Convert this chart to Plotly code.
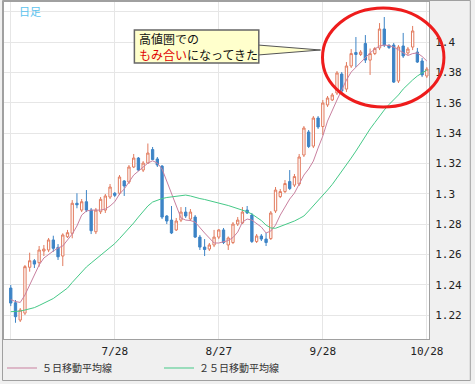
import plotly.graph_objects as go
import pandas as pd

# ---------------- data ----------------
dates = [d.strftime("%Y-%m-%d") for d in pd.bdate_range("2015-06-26", "2015-10-28")]

open_ = [1.2378, 1.2281, 1.2167, 1.2213, 1.2515, 1.2558, 1.2545, 1.2622, 1.2629, 1.2695,
         1.2646, 1.2589, 1.2716, 1.2739, 1.2937, 1.2892, 1.2947, 1.2892, 1.2749, 1.2881,
         1.2892, 1.2978, 1.3003, 1.3003, 1.3084, 1.3077, 1.3176, 1.3235, 1.3156, 1.3202,
         1.3291, 1.3229, 1.3182, 1.2853, 1.2826, 1.2761, 1.2826, 1.2879, 1.2833, 1.2846,
         1.2714, 1.2648, 1.2635, 1.2662, 1.2714, 1.2761, 1.2662, 1.2678, 1.2800, 1.2807,
         1.2892, 1.2859, 1.2685, 1.2721, 1.2701, 1.2704, 1.2886, 1.2981, 1.3014, 1.3080,
         1.3057, 1.3064, 1.3255, 1.3407, 1.3314, 1.3499, 1.3443, 1.3585, 1.3618, 1.3664,
         1.3789, 1.3690, 1.3842, 1.3931, 1.3918, 1.3990, 1.3881, 1.3924, 1.3961, 1.4086,
         1.3977, 1.3980, 1.3743, 1.3974, 1.3928, 1.3967, 1.3934, 1.3875, 1.3776]
high = [1.2398, 1.2299, 1.2246, 1.2530, 1.2611, 1.2569, 1.2655, 1.2662, 1.2708, 1.2723,
        1.2668, 1.2739, 1.2761, 1.2958, 1.3003, 1.2965, 1.3024, 1.2906, 1.2906, 1.2978,
        1.2998, 1.3064, 1.3011, 1.3123, 1.3090, 1.3189, 1.3262, 1.3242, 1.3215, 1.3331,
        1.3308, 1.3242, 1.3189, 1.2859, 1.2919, 1.2840, 1.2912, 1.2912, 1.2899, 1.2859,
        1.2728, 1.2701, 1.2675, 1.2761, 1.2767, 1.2774, 1.2718, 1.2813, 1.2846, 1.2912,
        1.2919, 1.2873, 1.2734, 1.2734, 1.2741, 1.2886, 1.3044, 1.3031, 1.3090, 1.3156,
        1.3130, 1.3262, 1.3446, 1.3420, 1.3512, 1.3512, 1.3618, 1.3644, 1.3664, 1.3809,
        1.3802, 1.3868, 1.3954, 1.4033, 1.3947, 1.4046, 1.3957, 1.3967, 1.4125, 1.4165,
        1.3987, 1.3994, 1.3980, 1.4060, 1.3967, 1.4106, 1.3961, 1.3895, 1.3835]
low = [1.2259, 1.2149, 1.2154, 1.2200, 1.2486, 1.2510, 1.2519, 1.2589, 1.2615, 1.2617,
       1.2563, 1.2523, 1.2708, 1.2706, 1.2904, 1.2879, 1.2879, 1.2734, 1.2734, 1.2866,
       1.2873, 1.2965, 1.2978, 1.2991, 1.2985, 1.3064, 1.3169, 1.3149, 1.3143, 1.3196,
       1.3222, 1.3176, 1.2833, 1.2800, 1.2734, 1.2754, 1.2813, 1.2840, 1.2820, 1.2708,
       1.2629, 1.2589, 1.2622, 1.2648, 1.2701, 1.2668, 1.2629, 1.2668, 1.2787, 1.2800,
       1.2866, 1.2675, 1.2675, 1.2688, 1.2655, 1.2695, 1.2873, 1.2971, 1.3004, 1.3024,
       1.3044, 1.3051, 1.3242, 1.3301, 1.3301, 1.3427, 1.3387, 1.3572, 1.3611, 1.3651,
       1.3664, 1.3671, 1.3829, 1.3835, 1.3908, 1.3862, 1.3783, 1.3914, 1.3947, 1.3967,
       1.3954, 1.3730, 1.3730, 1.3895, 1.3914, 1.3947, 1.3862, 1.3769, 1.3763]
close = [1.2279, 1.2189, 1.2233, 1.2519, 1.2558, 1.2536, 1.2629, 1.2635, 1.2695, 1.2640,
         1.2584, 1.2728, 1.2743, 1.2937, 1.2927, 1.2947, 1.2892, 1.2756, 1.2892, 1.2963,
         1.2985, 1.3044, 1.2989, 1.3110, 1.3051, 1.3176, 1.3235, 1.3156, 1.3202, 1.3268,
         1.3225, 1.3189, 1.2846, 1.2820, 1.2741, 1.2820, 1.2879, 1.2853, 1.2879, 1.2714,
         1.2648, 1.2632, 1.2662, 1.2714, 1.2761, 1.2678, 1.2708, 1.2800, 1.2826, 1.2879,
         1.2873, 1.2685, 1.2721, 1.2701, 1.2678, 1.2873, 1.3024, 1.3014, 1.3067, 1.3034,
         1.3113, 1.3242, 1.3433, 1.3311, 1.3499, 1.3440, 1.3598, 1.3631, 1.3651, 1.3796,
         1.3677, 1.3842, 1.3924, 1.3918, 1.3934, 1.3881, 1.3924, 1.3957, 1.4086, 1.3980,
         1.3964, 1.3736, 1.3967, 1.3908, 1.3954, 1.4073, 1.3868, 1.3783, 1.3822]
ma5 = [1.2302, 1.2289, 1.2283, 1.2332, 1.2398, 1.2464, 1.2530, 1.2576, 1.2602, 1.2622,
       1.2642, 1.2655, 1.2695, 1.2734, 1.2787, 1.2859, 1.2886, 1.2892, 1.2892, 1.2892,
       1.2899, 1.2919, 1.2947, 1.2998, 1.3031, 1.3077, 1.3123, 1.3149, 1.3173, 1.3202,
       1.3217, 1.3202, 1.3163, 1.3084, 1.3011, 1.2925, 1.2840, 1.2826, 1.2823, 1.2813,
       1.2774, 1.2741, 1.2708, 1.2675, 1.2675, 1.2681, 1.2691, 1.2711, 1.2747, 1.2813,
       1.2833, 1.2826, 1.2800, 1.2780, 1.2741, 1.2754, 1.2793, 1.2859, 1.2912, 1.2965,
       1.3004, 1.3064, 1.3123, 1.3163, 1.3215, 1.3301, 1.3380, 1.3479, 1.3552, 1.3618,
       1.3684, 1.3750, 1.3802, 1.3835, 1.3862, 1.3895, 1.3928, 1.3954, 1.3974, 1.3980,
       1.3977, 1.3967, 1.3947, 1.3928, 1.3911, 1.3924, 1.3928, 1.3905, 1.3875]
ma25 = [1.2222, 1.2223, 1.2226, 1.2233, 1.2240, 1.2249, 1.2263, 1.2279, 1.2292, 1.2309,
        1.2332, 1.2355, 1.2378, 1.2415, 1.2450, 1.2487, 1.2517, 1.2543, 1.2569, 1.2596,
        1.2619, 1.2642, 1.2671, 1.2704, 1.2737, 1.2767, 1.2807, 1.2846, 1.2886, 1.2919,
        1.2945, 1.2958, 1.2968, 1.2975, 1.2980, 1.2985, 1.2988, 1.2991, 1.2985, 1.2975,
        1.2968, 1.2962, 1.2955, 1.2948, 1.2938, 1.2932, 1.2922, 1.2912, 1.2902, 1.2892,
        1.2881, 1.2866, 1.2846, 1.2823, 1.2793, 1.2774, 1.2772, 1.2784, 1.2793, 1.2803,
        1.2820, 1.2836, 1.2853, 1.2886, 1.2919, 1.2952, 1.2985, 1.3024, 1.3061, 1.3103,
        1.3146, 1.3189, 1.3235, 1.3281, 1.3331, 1.3380, 1.3427, 1.3469, 1.3512, 1.3552,
        1.3588, 1.3618, 1.3651, 1.3690, 1.3723, 1.3750, 1.3776, 1.3799, 1.3816]

xtick_dates = ["2015-06-26", "2015-07-28", "2015-08-27", "2015-09-28", "2015-10-28"]
xtick_text = ["", "7/28", "8/27", "9/28", "10/28"]
ytick_vals = [1.22, 1.24, 1.26, 1.28, 1.30, 1.32, 1.34, 1.36, 1.38, 1.40, 1.42]
ytick_text = ["1.22", "1.24", "1.26", "1.28", "1.3", "1.32", "1.34", "1.36", "1.38", "1.4", ""]
y_range = [1.2042, 1.4264]
x_range = [-1.43, 88.46]

legend_names = ["５日移動平均線", "２５日移動平均線"]
frame_label = "日足"
callout_text = "高値圏での<br><span style='color:#e00000'>もみ合い</span>になってきた"

# ---------------- layout helpers (pixel -> paper) ----------------
W, H = 475, 384
ML, MR, MT, MB = 2, 46, 2, 45
PW, PH = W - ML - MR, H - MT - MB


def px(x):
    return (x - ML) / PW


def py(y):
    return (H - MB - y) / PH


fig = go.Figure()
fig.add_trace(go.Candlestick(
    x=dates, open=open_, high=high, low=low, close=close,
    increasing=dict(line=dict(color="#e27b5e", width=1), fillcolor="#ffffff"),
    decreasing=dict(line=dict(color="#3d84c6", width=1), fillcolor="#3d84c6"),
    whiskerwidth=0, showlegend=False, hoverinfo="skip",
))
fig.add_trace(go.Scatter(x=dates, y=ma5, mode="lines", name=legend_names[0],
                         line=dict(color="#c9809f", width=1)))
fig.add_trace(go.Scatter(x=dates, y=ma25, mode="lines", name=legend_names[1],
                         line=dict(color="#45c987", width=1)))

tickfont = dict(family="DejaVu Sans Mono", size=11, color="#222222")

fig.update_layout(
    width=W, height=H,
    margin=dict(l=ML, r=MR, t=MT, b=MB, pad=0),
    paper_bgcolor="#f0f0f0", plot_bgcolor="#ffffff",
    showlegend=True,
    legend=dict(orientation="h", x=px(0), xanchor="left", y=py(368), yanchor="middle",
                font=dict(family="Noto Sans CJK JP", size=10, color="#333333"),
                bgcolor="rgba(0,0,0,0)", entrywidth=112, entrywidthmode="pixels",
                itemclick=False, itemdoubleclick=False, tracegroupgap=0),
    xaxis=dict(type="category", range=x_range, rangeslider=dict(visible=False),
               tickmode="array", tickvals=xtick_dates, ticktext=xtick_text,
               showgrid=True, gridcolor="#e6e6e6", gridwidth=1,
               ticks="outside", ticklen=2, tickcolor="rgba(0,0,0,0)",
               tickfont=tickfont, showline=True, linecolor="#a0a0a0", linewidth=1,
               mirror=True, zeroline=False, fixedrange=True),
    yaxis=dict(side="right", range=y_range, tickmode="array", tickvals=ytick_vals,
               ticktext=ytick_text, showgrid=True, gridcolor="#e6e6e6", gridwidth=1,
               ticks="outside", ticklen=3, tickcolor="rgba(0,0,0,0)",
               tickfont=tickfont, showline=True, linecolor="#a0a0a0", linewidth=1,
               mirror=True, zeroline=False, fixedrange=True),
    font=dict(family="Noto Sans CJK JP"),
)

shapes = []
# outer frame
shapes.append(dict(type="rect", xref="paper", yref="paper",
                   x0=px(0.5), x1=px(470.5), y0=py(0.5), y1=py(380.5),
                   line=dict(color="#a0a0a0", width=1), layer="above"))
# callout tail then box
tail = "M {a},{b} L {c},{d} L {e},{f} Z".format(
    a=px(257), b=py(45), c=px(320), d=py(50), e=px(257), f=py(55))
shapes.append(dict(type="path", xref="paper", yref="paper", path=tail,
                   fillcolor="#ffffcc", line=dict(color="#555555", width=1), layer="above"))
shapes.append(dict(type="rect", xref="paper", yref="paper",
                   x0=px(133), x1=px(258), y0=py(30), y1=py(63),
                   fillcolor="#ffffcc", line=dict(color="#666666", width=1.5), layer="above"))
# red ellipse
shapes.append(dict(type="circle", xref="paper", yref="paper",
                   x0=px(322), x1=px(444), y0=py(8), y1=py(107),
                   line=dict(color="#ee1c1c", width=3), layer="above"))
fig.update_layout(shapes=shapes)

fig.add_annotation(xref="paper", yref="paper", x=px(15), y=py(11), xanchor="left",
                   yanchor="middle", text=frame_label, showarrow=False,
                   font=dict(family="Noto Sans CJK JP", size=11, color="#5cc3ef"))
fig.add_annotation(xref="paper", yref="paper", x=px(136), y=py(47), xanchor="left",
                   yanchor="middle", align="left", text=callout_text, showarrow=False,
                   font=dict(family="Noto Sans CJK JP", size=12, color="#111111"))

fig.write_html("out.html", config={"displayModeBar": False},
               post_script="document.body.style.margin='0';")
